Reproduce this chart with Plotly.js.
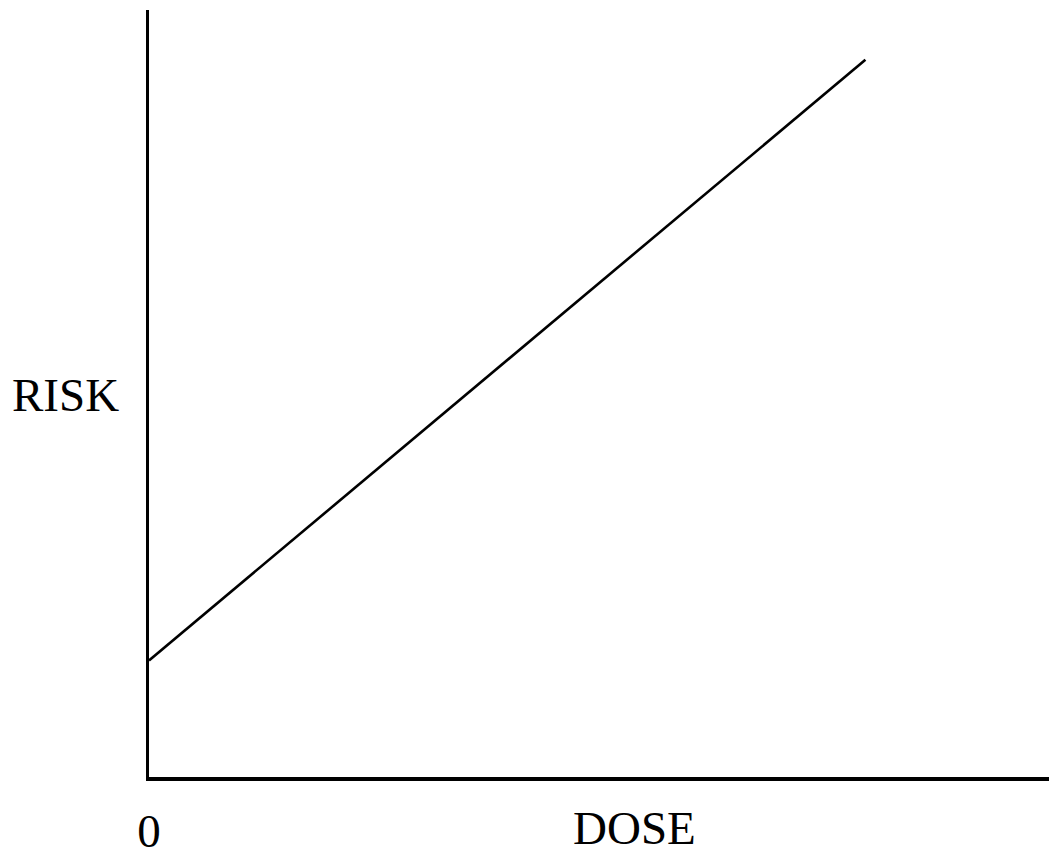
<!DOCTYPE html>
<html>
<head>
<meta charset="utf-8">
<script src="https://cdn.plot.ly/plotly-3.0.1.min.js"></script>
<style>html,body{margin:0;padding:0;background:#fff;}#chart{width:1049px;height:849px;}</style>
</head>
<body>
<div id="chart"></div>
<script>
// Data
const dose = [0, 79.6];
const risk = [15.2, 93.5];
const xTickVals = [0];
const xTickText = ['0'];
const xLabel = 'DOSE';
const yLabel = 'RISK';

const font = {family: '"Liberation Serif", "Times New Roman", serif', size: 47, color: '#000'};

const trace = {
  x: dose, y: risk, mode: 'lines', type: 'scatter',
  line: {color: '#000', width: 2.6}, hoverinfo: 'skip', showlegend: false
};

const layout = {
  width: 1049, height: 849,
  margin: {l: 149, r: 0, t: 10, b: 72, pad: 0},
  paper_bgcolor: '#fff', plot_bgcolor: '#fff',
  showlegend: false,
  font: font,
  xaxis: {
    range: [0, 100], showgrid: false, zeroline: false,
    showline: true, linecolor: '#000', linewidth: 3.5,
    tickvals: xTickVals, ticktext: xTickText, ticks: '',
    tickfont: font, ticklabelstandoff: 10, fixedrange: true
  },
  yaxis: {
    range: [0, 100], showgrid: false, zeroline: false,
    showline: true, linecolor: '#000', linewidth: 3.5,
    showticklabels: false, ticks: '', fixedrange: true
  },
  annotations: [
    {text: yLabel, xref: 'paper', yref: 'paper', x: -0.1544, xanchor: 'left',
     y: 0.498, yanchor: 'middle', showarrow: false, font: font},
    {text: xLabel, xref: 'paper', yref: 'paper', x: 0.539, xanchor: 'center',
     y: -0.1035, yanchor: 'bottom', showarrow: false, font: font}
  ]
};

Plotly.newPlot('chart', [trace], layout, {displayModeBar: false, staticPlot: true});
</script>
</body>
</html>
